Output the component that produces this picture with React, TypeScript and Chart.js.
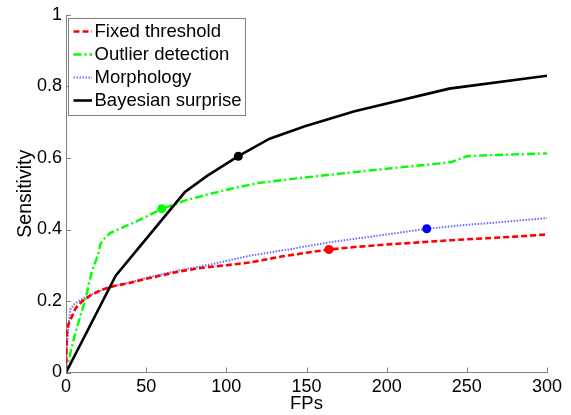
import React, { useEffect, useRef } from "react";
import { Chart, registerables } from "chart.js";

Chart.register(...registerables);

// ---- Data ----
const xTicks = [0, 50, 100, 150, 200, 250, 300];
const yTicks = [0, 0.2, 0.4, 0.6, 0.8, 1];

const fixedX = [0, 0.5, 1.5, 3.7, 6, 10, 15, 22.5, 30, 39, 50, 60, 71, 85, 100, 115, 135, 150, 164, 180, 200, 220, 240, 260, 280, 300];
const fixedY = [0, 0.11, 0.135, 0.157, 0.18, 0.199, 0.215, 0.232, 0.242, 0.25, 0.262, 0.272, 0.283, 0.293, 0.3, 0.308, 0.325, 0.335, 0.344, 0.351, 0.358, 0.364, 0.37, 0.375, 0.38, 0.386];

const outlierX = [0, 1.7, 5.8, 12, 16, 20, 21.5, 24, 27.5, 35, 45, 60, 75, 90, 105, 120, 140, 160, 177, 200, 220, 240, 250, 265, 280, 300];
const outlierY = [0, 0.036, 0.11, 0.204, 0.28, 0.33, 0.36, 0.375, 0.39, 0.405, 0.425, 0.458, 0.482, 0.5, 0.516, 0.53, 0.541, 0.551, 0.559, 0.57, 0.579, 0.588, 0.605, 0.608, 0.61, 0.613];

const morphX = [0, 0.5, 1.5, 2.7, 5, 8, 12, 20, 30, 40, 50, 71, 90, 115, 140, 164, 190, 225, 250, 275, 300];
const morphY = [0, 0.06, 0.13, 0.176, 0.19, 0.2, 0.21, 0.227, 0.242, 0.252, 0.265, 0.286, 0.302, 0.327, 0.345, 0.364, 0.38, 0.402, 0.413, 0.422, 0.432];

const bayesX = [0, 31, 74, 88, 107.5, 127, 149, 180, 239, 300];
const bayesY = [0, 0.271, 0.504, 0.55, 0.605, 0.654, 0.689, 0.731, 0.794, 0.83];

// operating points (filled markers)
const opX = [164, 59.7, 225, 107.5];
const opY = [0.344, 0.458, 0.402, 0.605];

const seriesNames = ["Fixed threshold", "Outlier detection", "Morphology", "Bayesian surprise"];
const seriesColors = ["#ff0000", "#00ff00", "#6a6aff", "#000000"];
const markerColors = ["#ff0000", "#00ff00", "#0000ff", "#000000"];
const seriesDash = [[6, 3], [8, 3, 2, 3], [1.5, 1.5], []];
const seriesWidth = [2.6, 2.4, 2, 2.6];

const FONT = "'Liberation Sans', Arial, Helvetica, sans-serif";
const AXIS_GRAY = "#808080";

const pts = (xs: number[], ys: number[]) => xs.map((x, i) => ({ x, y: ys[i] }));

const axisTicksPlugin = {
  id: "inwardTicks",
  afterDraw(chart: any) {
    const { ctx, chartArea, scales } = chart;
    ctx.save();
    ctx.strokeStyle = AXIS_GRAY;
    ctx.lineWidth = 1;
    ctx.beginPath();
    xTicks.forEach((t) => {
      const x = Math.round(scales.x.getPixelForValue(t)) + 0.5;
      ctx.moveTo(x, chartArea.bottom);
      ctx.lineTo(x, chartArea.bottom - 5);
    });
    yTicks.forEach((t) => {
      const y = Math.round(scales.y.getPixelForValue(t)) + 0.5;
      ctx.moveTo(chartArea.left, y);
      ctx.lineTo(chartArea.left + 5, y);
    });
    ctx.stroke();
    ctx.restore();
  },
};

const legendPlugin = {
  id: "matlabLegend",
  afterDraw(chart: any) {
    const { ctx } = chart;
    ctx.save();
    const bx = 68.5, by = 18.5, bw = 177, bh = 97;
    ctx.fillStyle = "#ffffff";
    ctx.fillRect(bx, by, bw, bh);
    ctx.strokeStyle = AXIS_GRAY;
    ctx.lineWidth = 1;
    ctx.setLineDash([]);
    ctx.strokeRect(bx, by, bw, bh);
    const rowY = [31.5, 54.5, 77.5, 100.5];
    ctx.font = `18.5px ${FONT}`;
    ctx.textBaseline = "middle";
    ctx.textAlign = "left";
    seriesNames.forEach((name, i) => {
      ctx.beginPath();
      ctx.strokeStyle = seriesColors[i];
      ctx.lineWidth = seriesWidth[i];
      ctx.setLineDash(seriesDash[i]);
      ctx.moveTo(73.5, rowY[i]);
      ctx.lineTo(92, rowY[i]);
      ctx.stroke();
      ctx.setLineDash([]);
      ctx.fillStyle = "#000000";
      ctx.fillText(name, 94.5, rowY[i] + 0.5);
    });
    ctx.restore();
  },
};

export default function App() {
  const canvasRef = useRef<HTMLCanvasElement | null>(null);

  useEffect(() => {
    if (!canvasRef.current) return;
    const lineDs = (i: number, xs: number[], ys: number[]) => ({
      label: seriesNames[i],
      data: pts(xs, ys),
      showLine: true,
      borderColor: seriesColors[i],
      borderWidth: seriesWidth[i],
      borderDash: seriesDash[i],
      pointRadius: 0,
      fill: false,
      tension: 0,
    });
    const markerDs = opX.map((x, i) => ({
      label: seriesNames[i] + " point",
      data: [{ x, y: opY[i] }],
      showLine: false,
      pointRadius: 4.5,
      pointBackgroundColor: markerColors[i],
      pointBorderColor: markerColors[i],
      pointBorderWidth: 0,
    }));

    const chart = new Chart(canvasRef.current, {
      type: "scatter",
      data: {
        datasets: [
          ...markerDs,
          lineDs(3, bayesX, bayesY),
          lineDs(0, fixedX, fixedY),
          lineDs(2, morphX, morphY),
          lineDs(1, outlierX, outlierY),
        ] as any,
      },
      options: {
        animation: false,
        responsive: false,
        maintainAspectRatio: false,
        layout: { padding: { top: 15, right: 24, bottom: 0, left: 0 } },
        plugins: {
          legend: { display: false },
          tooltip: { enabled: false },
        },
        scales: {
          x: {
            type: "linear",
            min: 0,
            max: 300,
            afterBuildTicks: (s: any) => {
              s.ticks = xTicks.map((v) => ({ value: v }));
            },
            ticks: {
              color: "#000",
              font: { family: FONT, size: 18 },
              padding: 4,
              maxRotation: 0,
              autoSkip: false,
            },
            grid: { display: false, drawTicks: false },
            border: { display: true, color: AXIS_GRAY, width: 1 },
            title: {
              display: true,
              text: "FPs",
              color: "#000",
              font: { family: FONT, size: 18.5 },
              padding: 0,
            },
            afterFit: (s: any) => {
              s.height = 42.5;
            },
          },
          y: {
            type: "linear",
            min: 0,
            max: 1,
            afterBuildTicks: (s: any) => {
              s.ticks = yTicks.map((v) => ({ value: v }));
            },
            ticks: {
              color: "#000",
              font: { family: FONT, size: 18 },
              padding: 4,
              autoSkip: false,
              callback: (v: any) => String(Math.round(Number(v) * 10) / 10),
            },
            grid: { display: false, drawTicks: false },
            border: { display: true, color: AXIS_GRAY, width: 1 },
            title: {
              display: true,
              text: "Sensitivity",
              color: "#000",
              font: { family: FONT, size: 19.5 },
              padding: { top: 14, bottom: 0 },
            },
            afterFit: (s: any) => {
              s.width = 66;
            },
          },
        },
      } as any,
      plugins: [axisTicksPlugin, legendPlugin],
    });
    return () => chart.destroy();
  }, []);

  return (
    <div style={{ position: "absolute", left: 0, top: 0, width: 571, height: 415, background: "#fff" }}>
      <canvas ref={canvasRef} width={571} height={415} style={{ width: 571, height: 415, display: "block" }} />
    </div>
  );
}
